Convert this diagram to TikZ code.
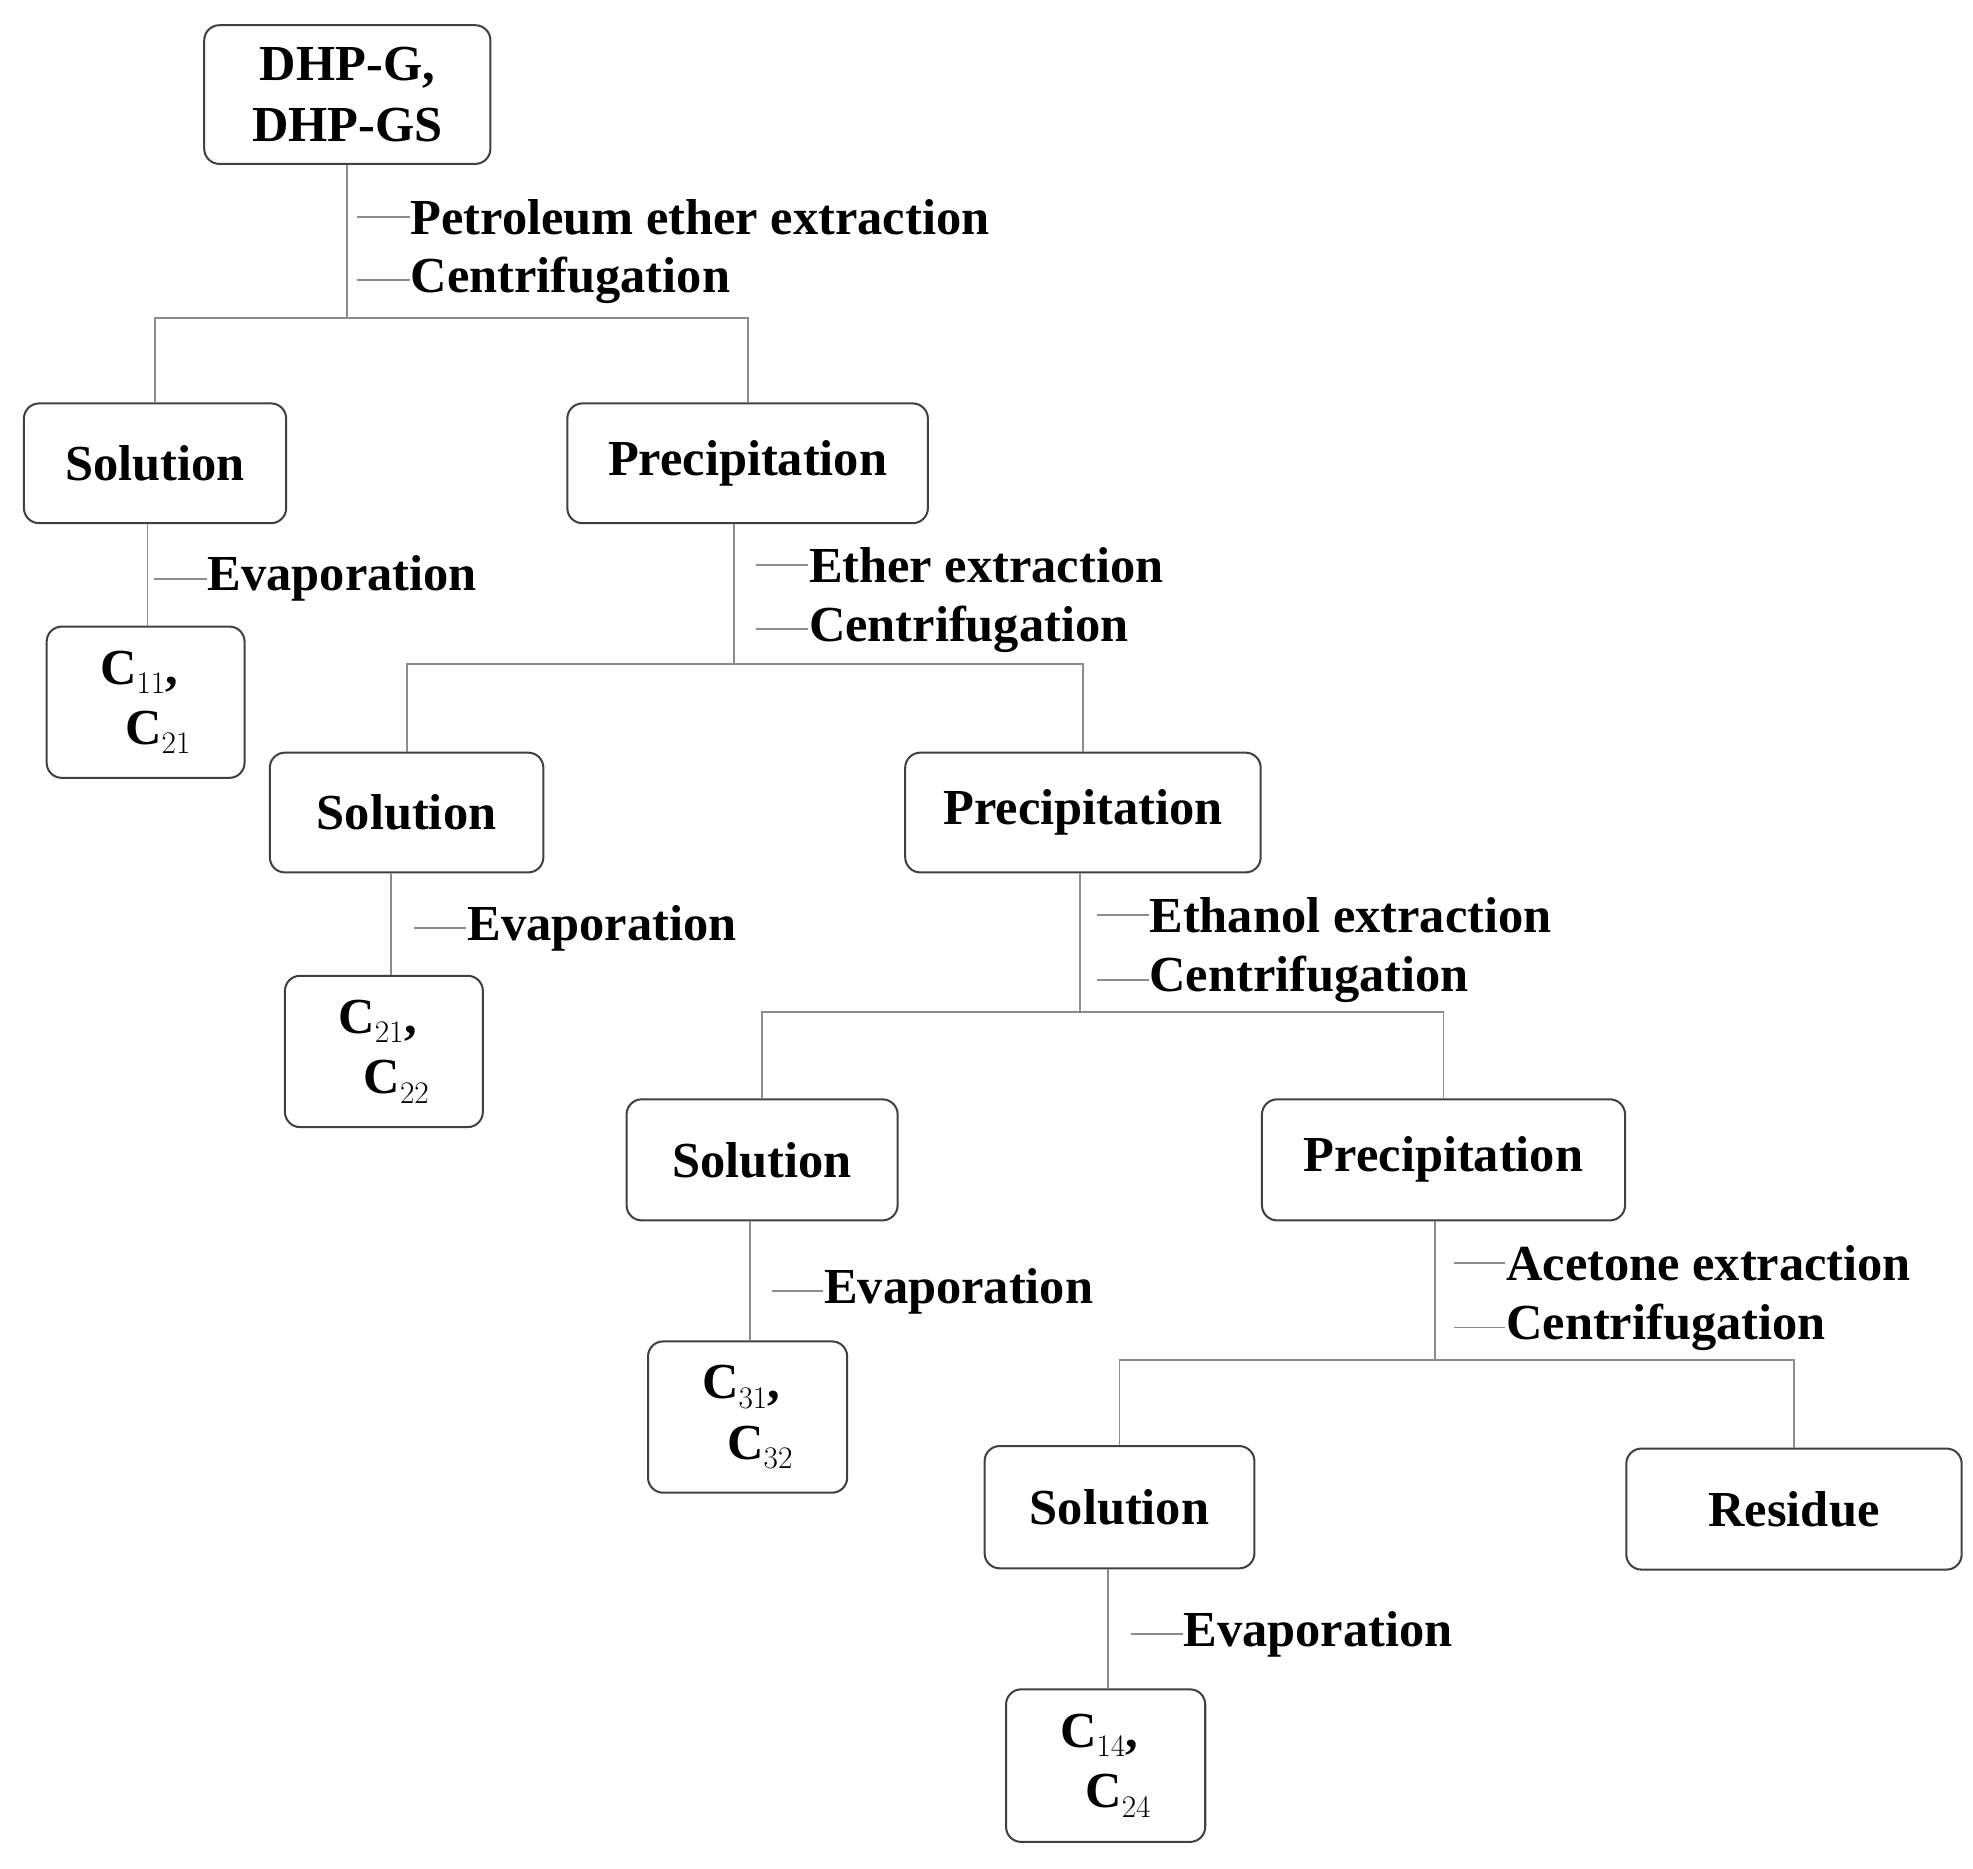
\documentclass[tikz,border=0pt]{standalone}
\usepackage{fontspec}
\setmainfont{Liberation Serif}
\begin{document}
\begin{tikzpicture}[x=1pt,y=-1pt,
  box/.style={draw=black!75,line width=1.6pt,rounded corners=12pt,inner sep=0pt,font=\fontsize{40}{48}\selectfont\bfseries,align=center},
  ln/.style={draw=black!45,line width=1.5pt},
  lab/.style={anchor=west,inner sep=0pt,font=\fontsize{40}{48}\selectfont\bfseries}]
\useasboundingbox (0,0) rectangle (1565,1482);
\newcommand{\bx}[6]{\node[box,minimum width=#4-#2,minimum height=#5-#3] (#1) at ({(#2+#4)/2},{(#3+#5)/2}) {#6};}
\bx{top}{162}{20}{389}{130}{DHP-G,\\DHP-GS}
\bx{sa}{19}{320}{227}{415}{Solution}
\bx{pa}{450}{320}{736}{415}{Precipitation}
\bx{ca}{37}{497}{194}{617}{\begin{tabular}{@{}l@{}}C$_{11}$,\\\hspace{0.5em}C$_{21}$\end{tabular}}
\bx{sb}{214}{597}{431}{692}{Solution}
\bx{pb}{718}{597}{1000}{692}{Precipitation}
\bx{cb}{226}{774}{383}{894}{\begin{tabular}{@{}l@{}}C$_{21}$,\\\hspace{0.5em}C$_{22}$\end{tabular}}
\bx{sc}{497}{872}{712}{968}{Solution}
\bx{pc}{1001}{872}{1289}{968}{Precipitation}
\bx{cc}{514}{1064}{672}{1184}{\begin{tabular}{@{}l@{}}C$_{31}$,\\\hspace{0.5em}C$_{32}$\end{tabular}}
\bx{sd}{781}{1147}{995}{1244}{Solution}
\bx{rd}{1290}{1149}{1556}{1245}{Residue}
\bx{cd}{798}{1340}{956}{1461}{\begin{tabular}{@{}l@{}}C$_{14}$,\\\hspace{0.5em}C$_{24}$\end{tabular}}
% splits
\coordinate (j1) at (275,252); \coordinate (j2) at (582,527);
\coordinate (j3) at (857,803); \coordinate (j4) at (1138,1079);
\draw[ln] (top.south -| j1) -- (j1); \draw[ln] (sa.north) |- (j1) -| (pa.north);
\draw[ln] (pa.south -| j2) -- (j2); \draw[ln] (sb.north) |- (j2) -| (pb.north);
\draw[ln] (pb.south -| j3) -- (j3); \draw[ln] (sc.north) |- (j3) -| (pc.north);
\draw[ln] (pc.south -| j4) -- (j4); \draw[ln] (sd.north) |- (j4) -| (rd.north);
\draw[ln] (sa.south -| 117,0) -- (ca.north -| 117,0);
\draw[ln] (sb.south -| 310,0) -- (cb.north -| 310,0);
\draw[ln] (sc.south -| 595,0) -- (cc.north -| 595,0);
\draw[ln] (sd.south -| 879,0) -- (cd.north -| 879,0);
% labels
\newcommand{\lb}[4]{\draw[ln] (#1,#3)--(#2,#3) node[lab] {#4};}
\lb{283}{325}{172}{Petroleum ether extraction}
\lb{283}{325}{222}{Centrifugation}
\lb{122}{164}{459}{Evaporation}
\lb{600}{641}{448}{Ether extraction}
\lb{600}{641}{499}{Centrifugation}
\lb{328}{370}{736}{Evaporation}
\lb{870}{911}{726}{Ethanol extraction}
\lb{870}{911}{777}{Centrifugation}
\lb{612}{653}{1024}{Evaporation}
\lb{1153}{1194}{1002}{Acetone extraction}
\lb{1153}{1194}{1053}{Centrifugation}
\lb{897}{938}{1296}{Evaporation}
\end{tikzpicture}
\end{document}
